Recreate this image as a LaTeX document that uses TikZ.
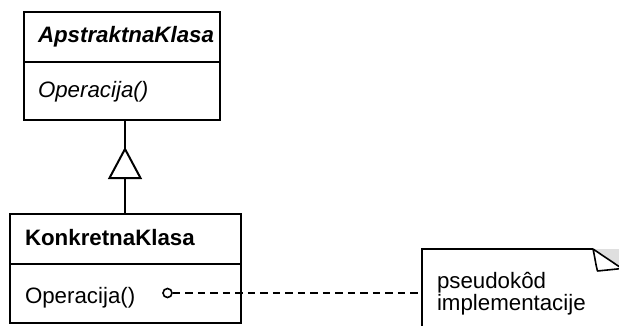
\documentclass[tikz,border=0pt]{standalone}
\usepackage{fontspec}
\setmainfont{Liberation Sans}
\begin{document}
\begin{tikzpicture}[x=1pt,y=-1pt,
  line width=2pt,
  classbox/.style={draw, inner sep=0pt, anchor=north west},
  label/.style={anchor=base west, inner sep=0pt, font=\fontsize{22.3}{22}\selectfont},
  dashlink/.style={dash pattern=on 7.5pt off 5pt, line width=1.8pt}]
\useasboundingbox (0,0) rectangle (619,325);
\clip (0,0) rectangle (619,325);

% abstract class
\node[classbox, minimum width=196pt, minimum height=108pt] (abs) at (23,11) {};
\draw (23,62) -- (219,62);
\node[label] (absname) at (37,42) {\bfseries\itshape ApstraktnaKlasa};
\node[label] (absop) at (37,97) {\itshape Operacija()};

% concrete class
\node[classbox, minimum width=231pt, minimum height=109pt] (konk) at (9,213) {};
\draw (9,264) -- (240,264);
\node[label] (konkname) at (24,245) {\bfseries KonkretnaKlasa};
\node[label] (konkop) at (24,303) {Operacija()};

% generalisation with hollow triangle
\coordinate (apex) at (125,149);
\coordinate (tribase) at (125,178);
\draw (125,119) -- (apex);
\draw[line join=miter] (apex) -- (140.5,178) -- (109.5,178) -- cycle;
\draw (tribase) -- (125,213);

% note
\node[inner sep=0pt, anchor=north west, minimum width=260pt, minimum height=100pt] (note) at (422,249) {};
\draw (note.south west) -- (note.north west) -- (593,249);
\fill[gray!25] (593,249) -- (625,249) -- (625,273) -- cycle;
\filldraw[fill=white, line width=1.6pt, line join=round]
  (593,249) .. controls (595,258) and (596,266) .. (597.5,271) -- (622,268.5) -- cycle;
\node[label] (notel1) at (436,288) {pseudokôd};
\node[label] (notel2) at (436,310) {implementacije};

% link from operation to note
\node[draw, circle, line width=1.6pt, inner sep=0pt, minimum size=9pt] (dot) at (167.5,293) {};
\draw[dashlink] (dot.east) -- (note.west |- dot.east);
\end{tikzpicture}
\end{document}
